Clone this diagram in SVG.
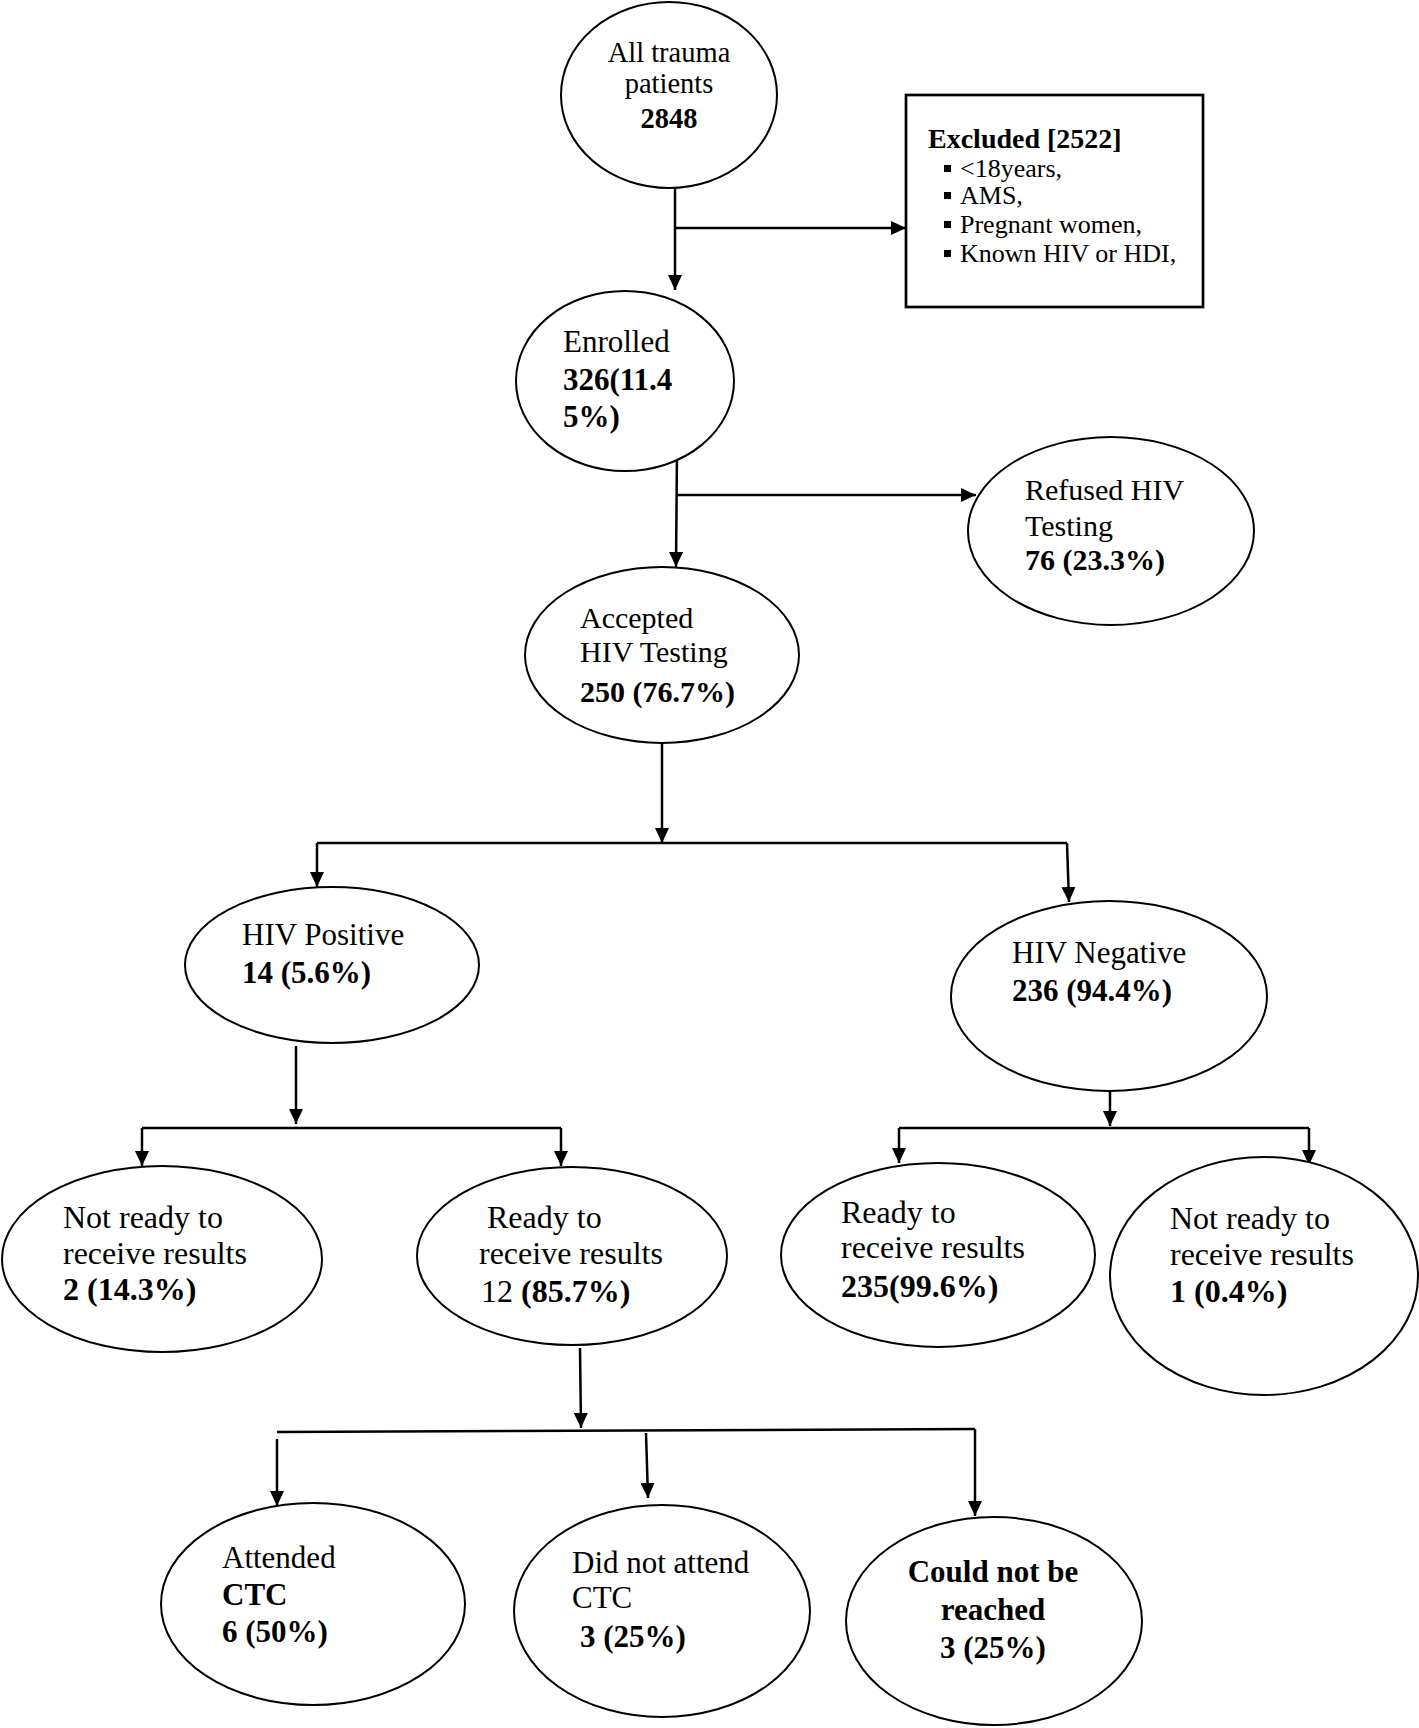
<svg xmlns="http://www.w3.org/2000/svg" width="1419" height="1728" viewBox="0 0 1419 1728">
<defs>
<marker id="ah" markerUnits="userSpaceOnUse" markerWidth="16" markerHeight="14" refX="15" refY="7" orient="auto">
<path d="M0,0 L15,7 L0,14 z" fill="#000"/>
</marker>
<style>
.n{fill:#fff;stroke:#000;stroke-width:2}
.b{fill:#fff;stroke:#000;stroke-width:2.7}
.c{fill:none;stroke:#000;stroke-width:2.5}
.a{marker-end:url(#ah)}
text{font-family:"Liberation Serif","Times New Roman",serif;fill:#000}
.bd{font-weight:bold}
.s28{font-size:28.5px}
.s30{font-size:30px}
.s31{font-size:31px}
.s32{font-size:32px}
.s26{font-size:26px}
</style>
</defs>
<rect width="1419" height="1728" fill="#fff"/>

<g id="connectors">
<path class="c a" d="M675,186 V290"/>
<path class="c a" d="M675,228 H906"/>
<path class="c a" d="M677,450 L676,567"/>
<path class="c a" d="M677,495 H976"/>
<path class="c a" d="M662,742 V843"/>
<path class="c" d="M317,843 H1067"/>
<path class="c a" d="M317,843 V887"/>
<path class="c a" d="M1067,843 L1069,902"/>
<path class="c a" d="M296,1046 V1124"/>
<path class="c" d="M142,1128 H561"/>
<path class="c a" d="M142,1128 V1166"/>
<path class="c a" d="M561,1128 V1166"/>
<path class="c a" d="M1110,1060 V1126"/>
<path class="c" d="M899,1128 H1309"/>
<path class="c a" d="M899,1128 V1163"/>
<path class="c a" d="M1309,1128 V1165"/>
<path class="c a" d="M580,1348 L581,1428"/>
<path class="c" d="M277,1432 L975,1429"/>
<path class="c a" d="M277,1439 V1506"/>
<path class="c a" d="M646,1433 L648,1498"/>
<path class="c a" d="M975,1429 V1516"/>
</g>

<g id="all-trauma">
<ellipse class="n" cx="669" cy="95" rx="108" ry="93"/>
<text class="s28" x="669" y="62" text-anchor="middle">All trauma</text>
<text class="s28" x="669" y="93" text-anchor="middle">patients</text>
<text class="s28 bd" x="669" y="128" text-anchor="middle">2848</text>
</g>

<g id="excluded">
<rect class="b" x="906" y="95" width="297" height="212"/>
<text class="bd" style="font-size:28px" x="928" y="148">Excluded [2522]</text>
<rect x="944" y="165" width="7" height="7"/>
<rect x="944" y="192" width="7" height="7"/>
<rect x="944" y="221" width="7" height="7"/>
<rect x="944" y="250" width="7" height="7"/>
<text class="s26" x="960" y="177">&lt;18years,</text>
<text class="s26" x="960" y="204">AMS,</text>
<text class="s26" x="960" y="233">Pregnant women,</text>
<text class="s26" x="960" y="262">Known HIV or HDI,</text>
</g>

<g id="enrolled">
<ellipse class="n" cx="625" cy="381" rx="109" ry="90"/>
<text class="s31" x="563" y="352">Enrolled</text>
<text class="s31 bd" x="563" y="390">326(11.4</text>
<text class="s31 bd" x="563" y="427">5%)</text>
</g>

<g id="refused">
<ellipse class="n" cx="1111" cy="531" rx="143" ry="94"/>
<text class="s30" x="1025" y="500">Refused HIV</text>
<text class="s30" x="1025" y="536">Testing</text>
<text class="s30 bd" x="1025" y="570">76 (23.3%)</text>
</g>

<g id="accepted">
<ellipse class="n" cx="662" cy="655" rx="137" ry="88"/>
<text class="s30" x="580" y="628">Accepted</text>
<text class="s30" x="580" y="662">HIV Testing</text>
<text class="s30 bd" x="580" y="702">250 (76.7%)</text>
</g>

<g id="hiv-positive">
<ellipse class="n" cx="332" cy="965" rx="147" ry="78"/>
<text class="s31" x="242" y="945">HIV Positive</text>
<text class="s31 bd" x="242" y="983">14 (5.6%)</text>
</g>

<g id="hiv-negative">
<ellipse class="n" cx="1109" cy="996" rx="158" ry="95"/>
<text class="s31" x="1012" y="963">HIV Negative</text>
<text class="s31 bd" x="1012" y="1001">236 (94.4%)</text>
</g>

<g id="pos-not-ready">
<ellipse class="n" cx="162" cy="1259" rx="160" ry="93"/>
<text class="s32" x="63" y="1228">Not ready to</text>
<text class="s32" x="63" y="1264">receive results</text>
<text class="s32 bd" x="63" y="1300">2 (14.3%)</text>
</g>

<g id="pos-ready">
<ellipse class="n" cx="572" cy="1256" rx="155" ry="89"/>
<text class="s32" x="487" y="1228">Ready to</text>
<text class="s32" x="479" y="1264">receive results</text>
<text class="s32" x="481" y="1302">12<tspan class="bd"> (85.7%)</tspan></text>
</g>

<g id="neg-ready">
<ellipse class="n" cx="938" cy="1255" rx="157" ry="92"/>
<text class="s32" x="841" y="1223">Ready to</text>
<text class="s32" x="841" y="1258">receive results</text>
<text class="s32 bd" x="841" y="1297">235(99.6%)</text>
</g>

<g id="neg-not-ready">
<ellipse class="n" cx="1264" cy="1276" rx="154" ry="119"/>
<text class="s32" x="1170" y="1229">Not ready to</text>
<text class="s32" x="1170" y="1265">receive results</text>
<text class="s32 bd" x="1170" y="1302">1 (0.4%)</text>
</g>

<g id="attended">
<ellipse class="n" cx="313" cy="1604" rx="152" ry="101"/>
<text class="s31" x="222" y="1568">Attended</text>
<text class="s31 bd" x="222" y="1605">CTC</text>
<text class="s31 bd" x="222" y="1642">6 (50%)</text>
</g>

<g id="did-not-attend">
<ellipse class="n" cx="662" cy="1611" rx="148" ry="106"/>
<text class="s31" x="572" y="1573">Did not attend</text>
<text class="s31" x="572" y="1608">CTC</text>
<text class="s31 bd" x="580" y="1647">3 (25%)</text>
</g>

<g id="not-reached">
<ellipse class="n" cx="994" cy="1621" rx="148" ry="104"/>
<text class="s31 bd" x="993" y="1582" text-anchor="middle">Could not be</text>
<text class="s31 bd" x="993" y="1620" text-anchor="middle">reached</text>
<text class="s31 bd" x="993" y="1658" text-anchor="middle">3 (25%)</text>
</g>
</svg>
